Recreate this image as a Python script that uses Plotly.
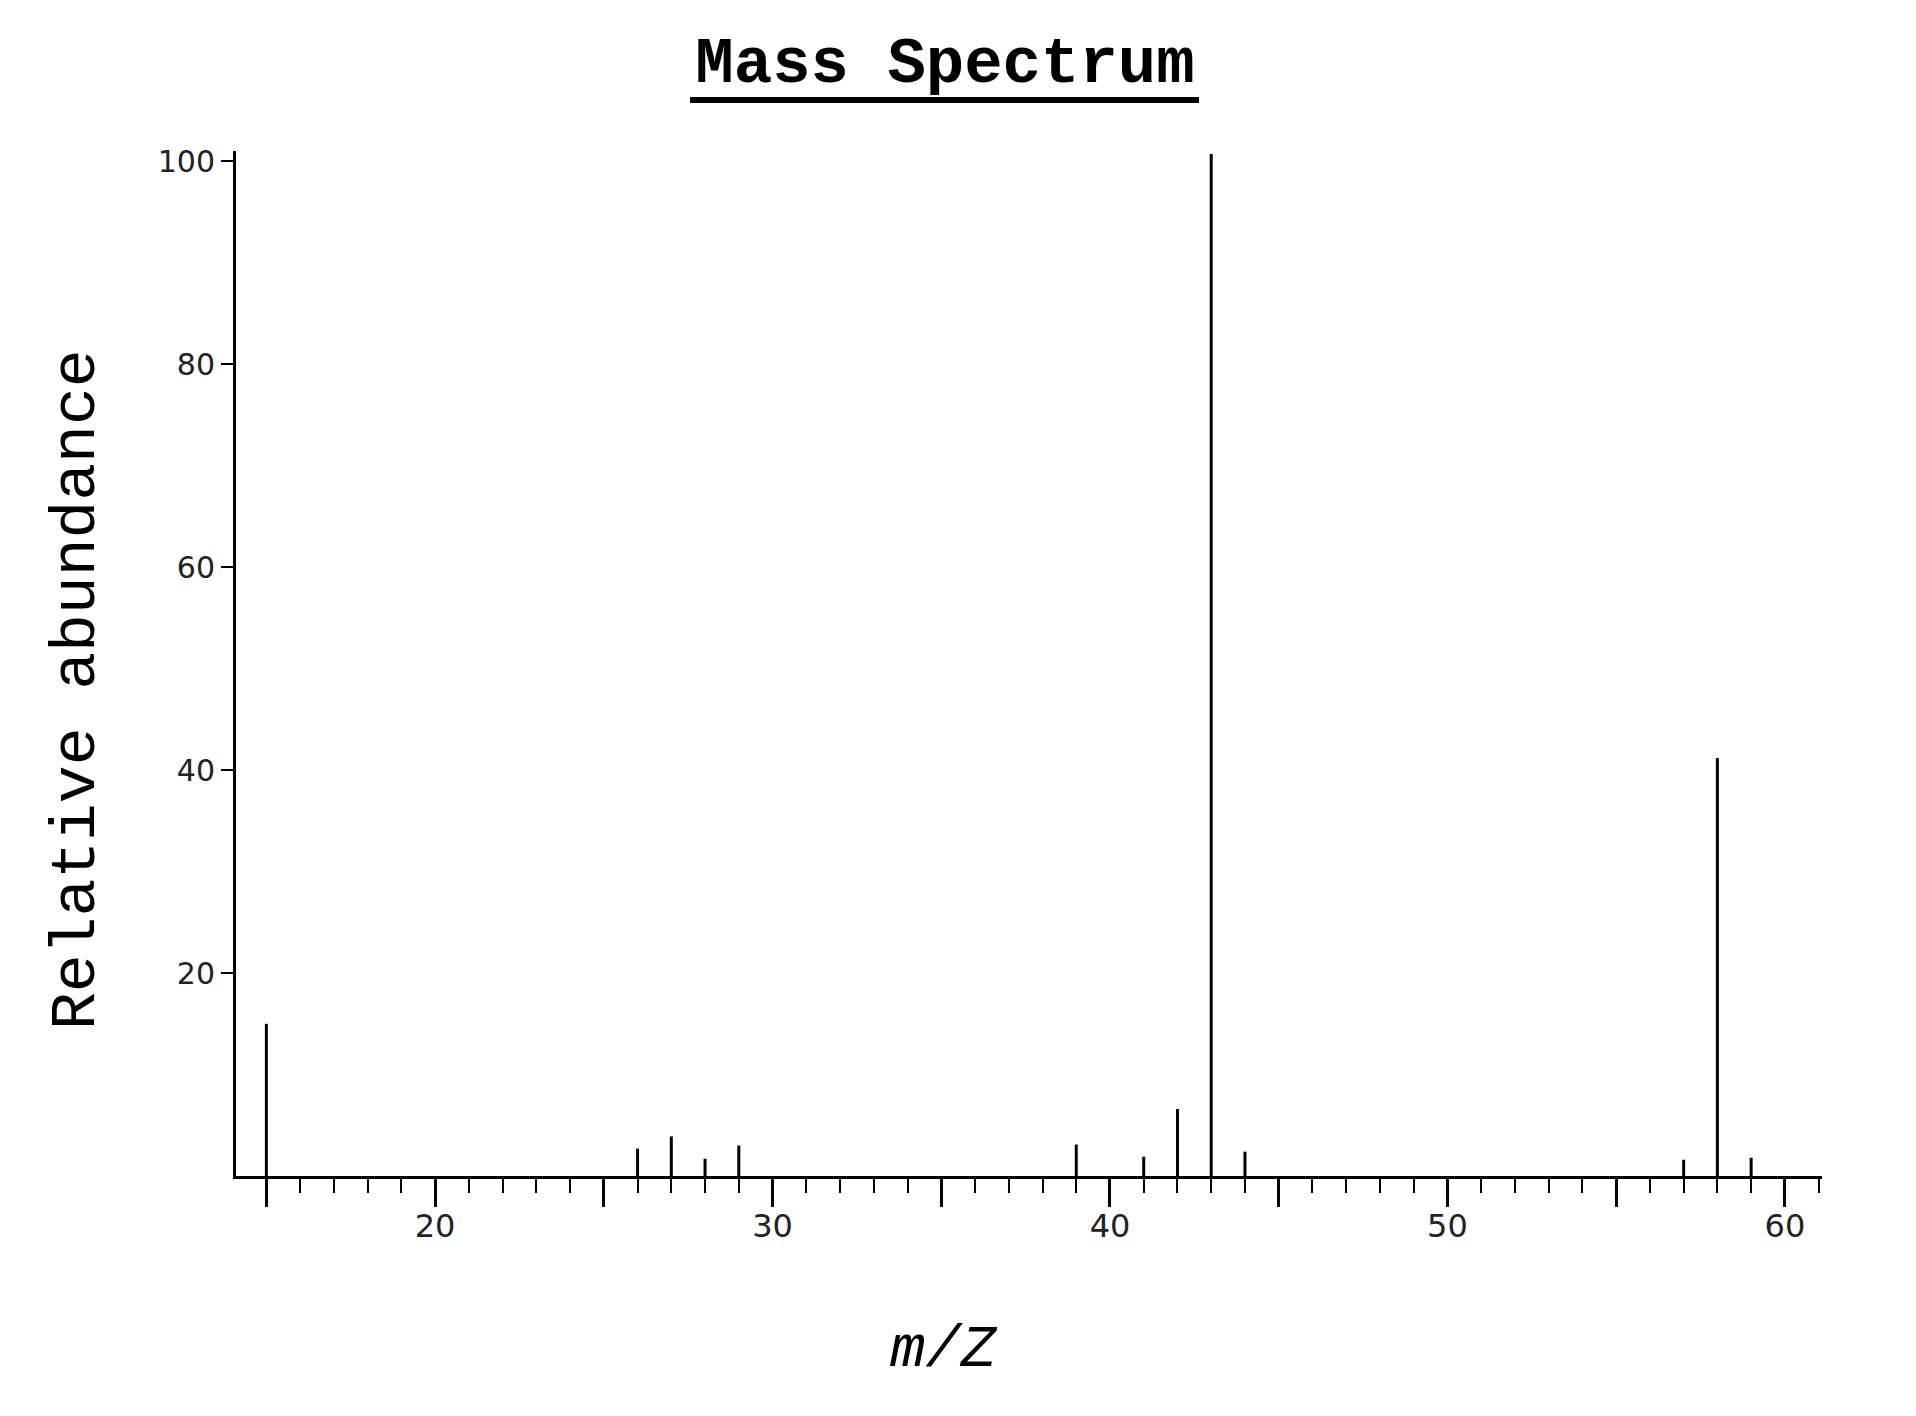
import plotly.graph_objects as go

# Data
mz = [15, 26, 27, 28, 29, 39, 41, 42, 43, 44, 57, 58, 59]
abundance = [15.0, 2.7, 3.9, 1.7, 3.0, 3.1, 1.9, 6.6, 100.7, 2.4, 1.6, 41.2, 1.8]

x_tickvals = [15, 20, 25, 30, 35, 40, 45, 50, 55, 60]
x_ticktext = ["", "20", "", "30", "", "40", "", "50", "", "60"]
y_tickvals = [20, 40, 60, 80, 100]

xs, ys = [], []
for m, a in zip(mz, abundance):
    xs += [m, m, None]
    ys += [0, a, None]

W, H = 1916, 1416
L, R, T, B = 228, 102, 143, 248
PW, PH = W - L - R, H - T - B

fig = go.Figure()
fig.add_trace(go.Scatter(x=xs, y=ys, mode="lines",
                         line=dict(color="black", width=3),
                         hoverinfo="skip", showlegend=False))

mono = "Courier New, Liberation Mono, monospace"
sans = "DejaVu Sans, sans-serif"

fig.update_layout(
    width=W, height=H,
    paper_bgcolor="white", plot_bgcolor="white",
    margin=dict(l=L, r=R, t=T, b=B),
    title=dict(text="<b>Mass Spectrum</b>", x=937 / W, xanchor="center",
               y=1 - 52 / H, yanchor="middle",
               font=dict(family=mono, size=64, color="black")),
    xaxis=dict(range=[14.1, 61.1], showgrid=False, zeroline=False,
               showline=True, linecolor="black", linewidth=3,
               tickmode="array", tickvals=x_tickvals, ticktext=x_ticktext,
               ticks="outside", ticklen=28, tickwidth=3, tickcolor="black",
               ticklabelstandoff=-8,
               minor=dict(dtick=1, tick0=0, ticks="outside", ticklen=14,
                          tickwidth=2, tickcolor="black", showgrid=False),
               tickfont=dict(family=sans, size=32, color="#222")),
    yaxis=dict(range=[0, 101], showgrid=False, zeroline=False,
               showline=True, linecolor="black", linewidth=3,
               tickmode="array", tickvals=y_tickvals,
               ticks="outside", ticklen=12, tickwidth=2, tickcolor="black",
               tickfont=dict(family=sans, size=30, color="#222")),
)

# y-axis title placed as in the original
fig.add_annotation(text="Relative abundance", xref="paper", yref="paper",
                   x=(69 - L) / PW, y=1 - (682 - T) / PH, textangle=-90,
                   xanchor="center", yanchor="middle", showarrow=False,
                   font=dict(family=mono, size=63, color="black"))

# x-axis title placed as in the original (left of plot centre)
fig.add_annotation(text="<i>m/Z</i>", xref="paper", yref="paper",
                   x=(936 - L) / PW, y=-(1342 - (T + PH)) / PH,
                   xanchor="center", yanchor="middle", showarrow=False,
                   font=dict(family=mono, size=59, color="black"))

# Thick underline below the title
uy = 1 + (T - 92) / PH
fig.add_shape(type="line", xref="paper", yref="paper",
              x0=(682 - L) / PW, x1=(1191 - L) / PW, y0=uy, y1=uy,
              line=dict(color="black", width=6))

fig.write_html("out.html")
